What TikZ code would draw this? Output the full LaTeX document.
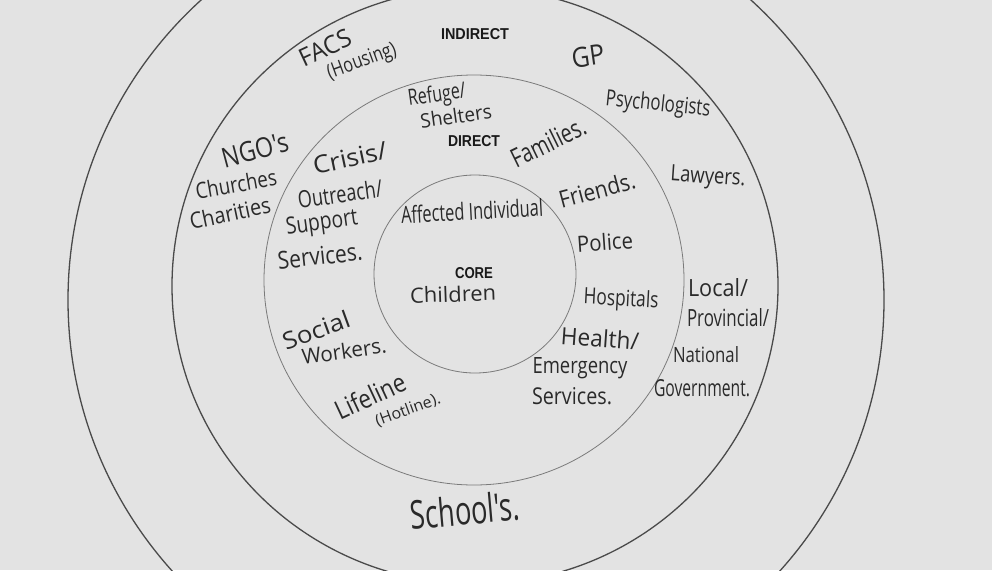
\documentclass[tikz,border=0pt]{standalone}
\usepackage{fontspec}
\usepackage{graphicx}
\newfontfamily\handfont{Open Sans}
\newfontfamily\printfont{Liberation Sans}
\definecolor{paper}{HTML}{E3E3E3}
\definecolor{ink}{HTML}{2A2A2A}
\definecolor{ringdark}{HTML}{4A4A4A}
\definecolor{ringlight}{HTML}{7A7A7A}
\newcommand\hwtext[3]{\resizebox{#1pt}{#2pt}{\handfont #3}}
\newcommand\prtext[3]{\resizebox{#1pt}{#2pt}{\printfont\bfseries #3}}
\tikzset{
  hand/.style={inner sep=0pt, text=ink, anchor=center},
  label/.style={inner sep=0pt, text=black!90, anchor=center},
  ringA/.style={draw=ringdark, line width=1.3pt},
  ringB/.style={draw=ringlight, line width=0.8pt},
}
\begin{document}
\begin{tikzpicture}[x=1pt,y=-1pt]
\useasboundingbox (0,0) rectangle (992,570);
\fill[paper] (0,0) rectangle (992,570);
\begin{scope}
\clip (0,0) rectangle (992,570);
\draw[ringA] (476,300) ellipse [x radius=408pt, y radius=406pt];
\draw[ringA] (475,286) ellipse [x radius=303pt, y radius=298pt];
\draw[ringB] (474,280) ellipse [x radius=210pt, y radius=205pt];
\draw[ringB] (475,274) ellipse [x radius=101pt, y radius=99pt];
\end{scope}
% printed labels
\node[label] (indirect) at (475,34) {\prtext{68}{11}{INDIRECT}};
\node[label] (direct) at (474,141) {\prtext{52}{11}{DIRECT}};
\node[label] (core) at (474,273) {\prtext{38}{11}{CORE}};
% handwritten labels: indirect ring
\node[hand, rotate=25] (facs) at (325,48) {\hwtext{55}{18}{FACS}};
\node[hand, rotate=20] (housing) at (362,62) {\hwtext{72}{15}{(Housing)}};
\node[hand, rotate=8] (gp) at (588,56) {\hwtext{33}{20}{GP}};
\node[hand, rotate=-6] (psych) at (658,105) {\hwtext{105}{17}{Psychologists}};
\node[hand, rotate=15] (ngo) at (255,150) {\hwtext{68}{20}{NGO's}};
\node[hand, rotate=10] (churches) at (236,184) {\hwtext{82}{17}{Churches}};
\node[hand, rotate=12] (charities) at (230,213) {\hwtext{82}{17}{Charities}};
\node[hand, rotate=-4] (lawyers) at (708,178) {\hwtext{75}{16}{Lawyers.}};
\node[hand] (local) at (718,288) {\hwtext{60}{18}{Local/}};
\node[hand] (prov) at (728,318) {\hwtext{82}{18}{Provincial/}};
\node[hand] (national) at (706,355) {\hwtext{66}{16}{National}};
\node[hand] (govt) at (702,388) {\hwtext{96}{17}{Government.}};
\node[hand, rotate=5] (school) at (465,510) {\hwtext{110}{30}{School's.}};
% direct ring
\node[hand, rotate=8] (refuge) at (437,96) {\hwtext{58}{17}{Refuge/}};
\node[hand, rotate=8] (shelters) at (456,116) {\hwtext{72}{15}{Shelters}};
\node[hand, rotate=26] (families) at (548,142) {\hwtext{80}{20}{Families.}};
\node[hand, rotate=12] (crisis) at (350,158) {\hwtext{75}{18}{Crisis/}};
\node[hand, rotate=8] (outreach) at (340,194) {\hwtext{85}{18}{Outreach/}};
\node[hand, rotate=8] (support) at (322,224) {\hwtext{72}{17}{Support}};
\node[hand, rotate=6] (services) at (320,256) {\hwtext{85}{18}{Services.}};
\node[hand, rotate=15] (friends) at (597,190) {\hwtext{78}{18}{Friends.}};
\node[hand, rotate=4] (police) at (605,242) {\hwtext{56}{17}{Police}};
\node[hand, rotate=-3] (hospitals) at (621,300) {\hwtext{75}{17}{Hospitals}};
\node[hand, rotate=-4] (health) at (600,338) {\hwtext{78}{18}{Health/}};
\node[hand] (emergency) at (580,368) {\hwtext{95}{16}{Emergency}};
\node[hand] (eservices) at (572,396) {\hwtext{80}{17}{Services.}};
\node[hand, rotate=20] (social) at (316,330) {\hwtext{70}{18}{Social}};
\node[hand, rotate=8] (workers) at (344,351) {\hwtext{85}{16}{Workers.}};
\node[hand, rotate=25] (lifeline) at (370,396) {\hwtext{75}{20}{Lifeline}};
\node[hand, rotate=20] (hotline) at (408,410) {\hwtext{68}{12}{(Hotline).}};
% core
\node[hand, rotate=3] (affected) at (472,211) {\hwtext{142}{18}{Affected Individual}};
\node[hand, rotate=2] (children) at (453,294) {\hwtext{86}{16}{Children}};
\end{tikzpicture}
\end{document}
